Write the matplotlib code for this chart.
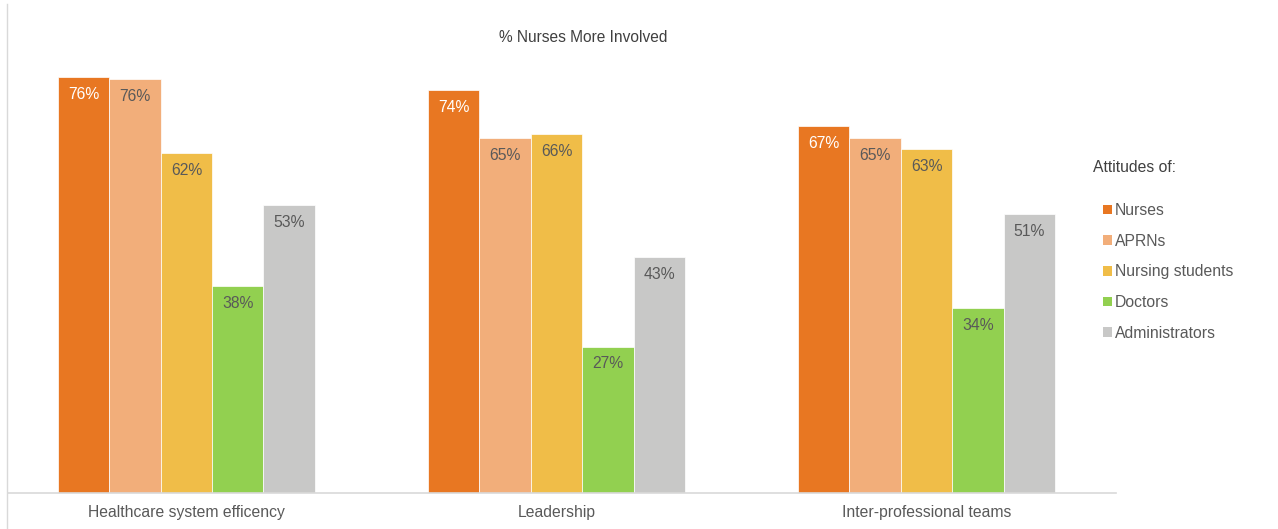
import matplotlib.pyplot as plt
from matplotlib.patches import Patch
from matplotlib.lines import Line2D
import numpy as np

plt.rcParams['font.family'] = ['Liberation Sans', 'DejaVu Sans']

# data
categories = ['Healthcare system efficency', 'Leadership', 'Inter-professional teams']
groups = ['Nurses', 'APRNs', 'Nursing students', 'Doctors', 'Administrators']
values = {
    'Nurses': [76.4, 74.0, 67.4],
    'APRNs': [76.0, 65.2, 65.2],
    'Nursing students': [62.4, 66.0, 63.1],
    'Doctors': [38.0, 26.9, 34.0],
    'Administrators': [52.9, 43.4, 51.2],
}
colors = ['#E87722', '#F2AE7A', '#F0BD48', '#92D050', '#C8C8C7']
label_colors = ['white', '#595959', '#595959', '#595959', '#595959']

fig = plt.figure(figsize=(12.78, 5.29), dpi=100)
W, H = 1278, 529
ax = fig.add_axes([8 / W, 1 - 493 / H, (1116 - 8) / W, (493 - 3) / H])

x = np.arange(len(categories))
width = 51.4 / 370
for i, g in enumerate(groups):
    pos = x + (i - 2) * width
    bars = ax.bar(pos, values[g], width, color=colors[i], edgecolor='white',
                  linewidth=0.5, label=g, zorder=2)
    for b, v in zip(bars, values[g]):
        ax.text(b.get_x() + b.get_width() / 2, v - 3.2, '%.0f%%' % v,
                ha='center', va='center', fontsize=11.3, color=label_colors[i])

ax.set_xlim(-0.482, 2.512)
ax.set_ylim(0, 90)
ax.set_yticks([])
ax.set_xticks(x)
ax.set_xticklabels(categories, fontsize=11.3, color='#595959')
ax.tick_params(axis='x', length=0, pad=9)
for s in ['top', 'right', 'left']:
    ax.spines[s].set_visible(False)
ax.spines['bottom'].set_color('#D9D9D9')
ax.spines['bottom'].set_linewidth(1.2)

# chart border on the left
fig.add_artist(Line2D([7 / W, 7 / W], [0, 1 - 4 / H], color='#D9D9D9', linewidth=1))

fig.text(583 / W, 1 - 37 / H, '% Nurses More Involved', ha='center', va='center',
         fontsize=11.2, color='#404040')

fig.text(1093 / W, 1 - 168 / H, 'Attitudes of:', ha='left', va='center',
         fontsize=11.3, color='#404040')
handles = [Patch(facecolor=c, edgecolor='none') for c in colors]
fig.legend(handles, groups, loc='upper left', bbox_to_anchor=(1103 / W, 1 - 203 / H),
           frameon=False, fontsize=11.3, labelcolor='#595959', handlelength=0.55,
           handleheight=0.55, handletextpad=0.2, labelspacing=1.0,
           borderpad=0, borderaxespad=0)

fig.savefig('out.png', dpi=100)
